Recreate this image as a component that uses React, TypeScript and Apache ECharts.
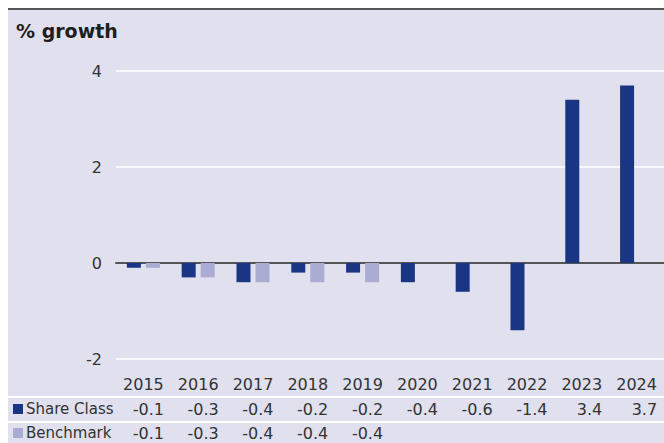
import React, { useEffect, useRef } from "react";
import * as echarts from "echarts";

const categories = ["2015", "2016", "2017", "2018", "2019", "2020", "2021", "2022", "2023", "2024"];
const shareClass: (number | null)[] = [-0.1, -0.3, -0.4, -0.2, -0.2, -0.4, -0.6, -1.4, 3.4, 3.7];
const benchmark: (number | null)[] = [-0.1, -0.3, -0.4, -0.4, -0.4, null, null, null, null, null];
const seriesNames = ["Share Class", "Benchmark"];
const yMin = -2;
const yMax = 4;
const yStep = 2;
const title = "% growth";

const BG = "#e1e0ee";
const DARK = "#1b3585";
const LIGHT = "#aaacd3";
const TEXT = "#333333";
const FONT = "DejaVu Sans";
const W = 656;
const H = 435;

const fmt = (v: number | null) => (v === null || v === undefined ? "" : v.toFixed(1));

export default function App() {
  const ref = useRef<HTMLDivElement>(null);
  useEffect(() => {
    if (!ref.current) return;
    const chart = echarts.init(ref.current, undefined, { renderer: "svg" });
    const gridBottom = 84;
    const baseAxis = (margin: number, values: (number | null)[] | null) => ({
      type: "category",
      gridIndex: 0,
      data: categories,
      position: "bottom",
      axisLine: { show: false, onZero: false },
      axisTick: { show: false },
      splitLine: { show: false },
      axisLabel: {
        show: true,
        interval: 0,
        margin,
        verticalAlign: "middle",
        color: TEXT,
        fontFamily: FONT,
        fontSize: 16,
        formatter: values
          ? (_v: string, i: number) => "{v|" + fmt(values[i]) + "}"
          : (v: string) => "{v|" + v + "}",
        rich: { v: { width: 41, align: values ? "right" : "center", color: TEXT, fontFamily: FONT, fontSize: 16 } },
      },
    });
    chart.setOption({
      animation: false,
      backgroundColor: BG,
      textStyle: { fontFamily: FONT },
      grid: { left: 108, right: 0, top: 63, bottom: gridBottom, containLabel: false, outerBoundsMode: "none" },
      xAxis: [
        {
          type: "category",
          data: categories,
          axisLine: { show: true, onZero: true, lineStyle: { color: "#555555", width: 2 } },
          axisTick: { show: false },
          axisLabel: { show: false },
          splitLine: { show: false },
        },
        baseAxis(25, null),
        baseAxis(50, shareClass),
        baseAxis(74, benchmark),
      ],
      yAxis: {
        type: "value",
        min: yMin,
        max: yMax,
        interval: yStep,
        axisLine: { show: false },
        axisTick: { show: false },
        axisLabel: { margin: 14, color: TEXT, fontFamily: FONT, fontSize: 16 },
        splitLine: { show: true, lineStyle: { color: "#ffffff", width: 1.5 } },
      },
      series: [
        {
          name: seriesNames[0],
          type: "bar",
          data: shareClass,
          barWidth: 14,
          barGap: "36%",
          itemStyle: { color: DARK },
        },
        {
          name: seriesNames[1],
          type: "bar",
          data: benchmark,
          barWidth: 14,
          barGap: "36%",
          itemStyle: { color: LIGHT },
        },
      ],
      graphic: [
        { type: "rect", left: 0, top: 0, shape: { width: W, height: 2 }, style: { fill: "#555555" } },
        {
          type: "text",
          left: 8,
          top: 13,
          style: { text: title, fill: "#1e1e1e", font: `bold 19px "${FONT}"` },
        },
        { type: "rect", left: 0, top: 388, shape: { width: W, height: 2 }, style: { fill: "#ffffff" } },
        { type: "rect", left: 0, top: 413, shape: { width: W, height: 2 }, style: { fill: "#ffffff" } },
        { type: "rect", left: 5, top: 396, shape: { width: 10, height: 10 }, style: { fill: DARK } },
        { type: "rect", left: 5, top: 420, shape: { width: 10, height: 10 }, style: { fill: LIGHT } },
        {
          type: "text",
          x: 18,
          y: 401,
          style: { text: seriesNames[0], fill: TEXT, font: `15px "${FONT}"`, verticalAlign: "middle" },
        },
        {
          type: "text",
          x: 18,
          y: 425,
          style: { text: seriesNames[1], fill: TEXT, font: `15px "${FONT}"`, verticalAlign: "middle" },
        },
      ],
    });
    return () => chart.dispose();
  }, []);
  return (
    <div
      ref={ref}
      style={{ position: "absolute", left: 8, top: 8, width: W, height: H }}
    />
  );
}
